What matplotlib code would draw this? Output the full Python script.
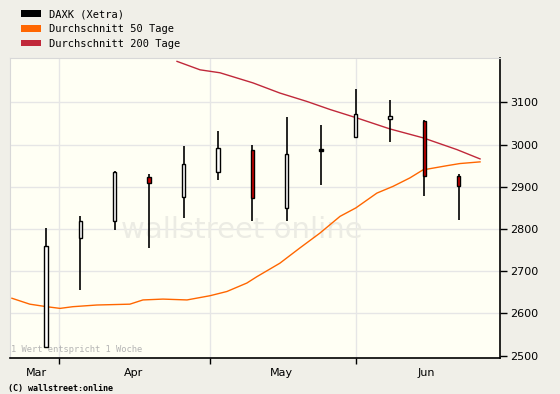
import matplotlib
matplotlib.use('Agg')
import matplotlib.pyplot as plt
from matplotlib.patches import Patch

# Wochenkerzen DAXK (Xetra), x = Wochenindex
wochen = [0, 1, 2, 3, 4, 5, 6, 7, 8, 9, 10, 11, 12]
eroeffnung = [2520, 2778, 2818, 2924, 2876, 2936, 2988, 2849, 2990, 3018, 3061, 3056, 2925]
schluss = [2759, 2819, 2935, 2908, 2954, 2992, 2873, 2978, 2984, 3072, 3067, 2925, 2901]
hoch = [2802, 2831, 2938, 2931, 2997, 3033, 2999, 3066, 3047, 3132, 3106, 3057, 2931]
tief = [2517, 2656, 2798, 2754, 2827, 2917, 2820, 2820, 2905, 3018, 3005, 2879, 2822]

# Durchschnitt 50 Tage
x50 = [-0.99, -0.47, 0.02, 0.41, 0.78, 1.48, 2.44, 2.82, 3.40, 4.10, 4.77,
       5.26, 5.84, 6.13, 6.80, 7.38, 7.96, 8.55, 9.01, 9.62, 10.09, 10.58,
       10.96, 11.66, 12.03, 12.62]
y50 = [2636, 2622, 2616, 2612, 2616, 2620, 2622, 2632, 2634, 2632, 2642,
       2652, 2672, 2687, 2719, 2755, 2790, 2830, 2850, 2885, 2901, 2921,
       2940, 2950, 2955, 2959]

# Durchschnitt 200 Tage
x200 = [3.81, 4.48, 5.06, 6.02, 6.80, 7.59, 8.26, 9.04, 10.00, 10.96, 11.95, 12.62]
y200 = [3197, 3177, 3170, 3146, 3122, 3102, 3083, 3063, 3037, 3016, 2988, 2966]

monat_ticks = [0.38, 4.77, 9.01]
monat_pos = [-0.29, 2.56, 6.86, 11.05]
monate = ['Mar', 'Apr', 'May', 'Jun']
y_ticks = [2500, 2600, 2700, 2800, 2900, 3000, 3100]

bg = '#f0efe8'
fig = plt.figure(figsize=(5.6, 3.94), dpi=100, facecolor=bg)
ax = fig.add_axes([9.5 / 560, 36 / 394, 490.5 / 560, 300 / 394])
ax.set_facecolor('#fffff4')

ax.set_xlim(-1.06, 13.2)
ax.set_ylim(2494.5, 3205)

# Gitter
for y in y_ticks[1:]:
    ax.axhline(y, color='#e6e6e6', lw=1, zorder=0)
for x in monat_ticks:
    ax.axvline(x, color='#e6e6e6', lw=1, zorder=0)

# Wasserzeichen
ax.text(5.7, 2797, 'wallstreet online', fontsize=21, color='#ececE4',
        ha='center', va='center', zorder=0.5)

ax.plot(x50, y50, color='#ff6600', lw=1, zorder=2)
ax.plot(x200, y200, color='#c0283a', lw=1, zorder=2)

ax.vlines(wochen, tief, hoch, color='black', lw=1.2, zorder=3)
unten = [min(o, c) for o, c in zip(eroeffnung, schluss)]
hoehe = [max(abs(c - o), 6) for o, c in zip(eroeffnung, schluss)]
farben = ['white' if c >= o else '#cc0000' for o, c in zip(eroeffnung, schluss)]
farben[8] = 'black'
ax.bar(wochen, hoehe, bottom=unten, width=0.1, color=farben,
       edgecolor='black', linewidth=1, zorder=4)

# Achsen
for s in ['top', 'left']:
    ax.spines[s].set_color('#d8d8d8')
for s in ['right', 'bottom']:
    ax.spines[s].set_color('black')
    ax.spines[s].set_linewidth(1.2)

ax.yaxis.tick_right()
ax.set_yticks(y_ticks)
ax.tick_params(axis='y', direction='out', length=5, width=1, labelsize=8, pad=2)
ax.set_xticks(monat_ticks)
ax.set_xticklabels([])
ax.set_xticks(monat_pos, minor=True)
ax.set_xticklabels(monate, minor=True)
ax.tick_params(axis='x', which='major', direction='out', length=4, width=1)
ax.tick_params(axis='x', which='minor', length=0, labelsize=8, pad=7)

ax.text(-1.02, 2505, '1 Wert entspricht 1 Woche', fontsize=6.3, color='#b4b4b4',
        family='DejaVu Sans Mono', va='bottom', ha='left')

fig.text(8 / 560, 1 - 388 / 394, '(C) wallstreet:online', fontsize=6,
         family='DejaVu Sans Mono', weight='bold', va='center', ha='left')

handles = [Patch(facecolor='black', edgecolor='none', label='DAXK (Xetra)'),
           Patch(facecolor='#ff6600', edgecolor='none', label='Durchschnitt 50 Tage'),
           Patch(facecolor='#c0283a', edgecolor='none', label='Durchschnitt 200 Tage')]
fig.legend(handles=handles, loc='upper left', bbox_to_anchor=(14 / 560, 1 - 2 / 394),
           frameon=False, prop={'family': 'DejaVu Sans Mono', 'size': 7.5},
           handlelength=1.9, handleheight=0.6, labelspacing=0.45, handletextpad=0.8,
           borderpad=0.2)

fig.savefig('out.png', dpi=100, facecolor=bg)
